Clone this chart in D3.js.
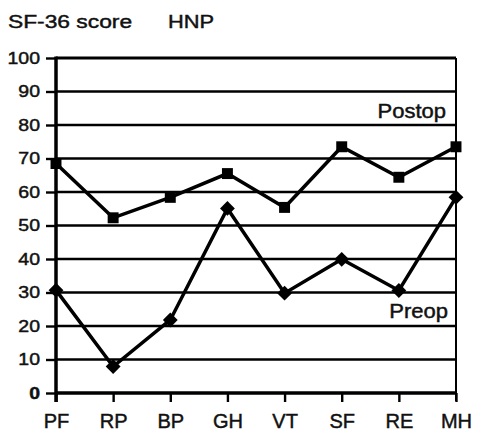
<!DOCTYPE html>
<html>
<head>
<meta charset="utf-8">
<script src="https://cdn.jsdelivr.net/npm/d3@7"></script>
<style>
  body { margin: 0; background: #fff; }
  text { font-family: "Liberation Sans", Arial, sans-serif; fill: #111; stroke: #111; stroke-width: 0.45px; }
</style>
</head>
<body>
<div class="chart"></div>
<script>
const categories = ["PF", "RP", "BP", "GH", "VT", "SF", "RE", "MH"];
const postop = [68.5, 52.3, 58.4, 65.5, 55.4, 73.5, 64.4, 73.5];
const preop = [30.7, 7.9, 21.8, 55.1, 29.8, 39.9, 30.6, 58.4];
const yTicks = [0, 10, 20, 30, 40, 50, 60, 70, 80, 90, 100];

const width = 477, height = 433;
const plotLeft = 56, plotRight = 456, plotTop = 58, plotBottom = 393;

const svg = d3.select(".chart").append("svg")
    .attr("width", width)
    .attr("height", height);

const x = d3.scalePoint().domain(categories).range([plotLeft, plotRight]);
const y = d3.scaleLinear().domain([0, 100]).range([plotBottom, plotTop]);

// stretch text a bit wider, like the original scan
function stretchText(sel, sx) {
  sel.each(function () {
    const t = d3.select(this);
    const tx = +t.attr("x") || 0, ty = +t.attr("y") || 0;
    t.attr("x", 0).attr("y", 0)
     .attr("transform", `translate(${tx},${ty}) scale(${sx},1)`);
  });
}

// title
svg.append("text").attr("x", 8).attr("y", 28)
    .style("font-size", "19px").text("SF-36 score")
    .call(stretchText, 1.2);
svg.append("text").attr("x", 168).attr("y", 28)
    .style("font-size", "19px").text("HNP")
    .call(stretchText, 1.15);

// gridlines
svg.append("g").selectAll("line")
  .data(yTicks.filter(d => d > 0))
  .join("line")
    .attr("x1", plotLeft).attr("x2", plotRight)
    .attr("y1", d => y(d)).attr("y2", d => y(d))
    .attr("stroke", "#000")
    .attr("stroke-width", d => d === 100 ? 3 : 2.4);

// right border
svg.append("line")
    .attr("x1", plotRight).attr("x2", plotRight)
    .attr("y1", plotTop).attr("y2", plotBottom + 8)
    .attr("stroke", "#000").attr("stroke-width", 2);

// y axis
const yAxis = svg.append("g")
    .attr("transform", `translate(${plotLeft},0)`)
    .call(d3.axisLeft(y).tickValues(yTicks).tickSize(10).tickPadding(6));
yAxis.select(".domain").attr("stroke-width", 3.5)
    .attr("d", `M0,${plotTop - 1.5}V${plotBottom + 9}`);
yAxis.selectAll(".tick line").attr("stroke-width", 2.4);
yAxis.selectAll(".tick text")
    .style("font-size", "16.5px")
    .style("font-family", "'Liberation Sans', Arial, sans-serif")
    .style("font-weight", d => d === 0 ? "bold" : "normal")
    .attr("fill", "#111")
    .call(stretchText, 1.18);

// x axis
const xAxis = svg.append("g")
    .attr("transform", `translate(0,${plotBottom})`)
    .call(d3.axisBottom(x).tickSize(9).tickPadding(12));
xAxis.select(".domain").attr("stroke-width", 3.5)
    .attr("d", `M${plotLeft},0H${plotRight}`);
xAxis.selectAll(".tick line").attr("stroke-width", 2.4);
xAxis.selectAll(".tick text")
    .style("font-size", "20px")
    .style("font-family", "'Liberation Sans', Arial, sans-serif")
    .attr("fill", "#111");

const line = d3.line()
    .x((d, i) => x(categories[i]))
    .y(d => y(d));

// series lines
svg.append("path").datum(postop)
    .attr("d", line).attr("fill", "none")
    .attr("stroke", "#000").attr("stroke-width", 3.5)
    .attr("stroke-linejoin", "miter");
svg.append("path").datum(preop)
    .attr("d", line).attr("fill", "none")
    .attr("stroke", "#000").attr("stroke-width", 3.5)
    .attr("stroke-linejoin", "miter");

// markers
svg.append("g").selectAll("path")
  .data(postop)
  .join("path")
    .attr("transform", (d, i) => `translate(${x(categories[i])},${y(d)})`)
    .attr("d", d3.symbol(d3.symbolSquare, 120))
    .attr("fill", "#000");
svg.append("g").selectAll("path")
  .data(preop)
  .join("path")
    .attr("transform", (d, i) => `translate(${x(categories[i])},${y(d)}) rotate(45)`)
    .attr("d", d3.symbol(d3.symbolSquare, 110))
    .attr("fill", "#000");

// series labels
svg.append("text").attr("x", 446).attr("y", 118)
    .attr("text-anchor", "end")
    .style("font-size", "20px").text("Postop")
    .call(stretchText, 1.1);
svg.append("text").attr("x", 448).attr("y", 318)
    .attr("text-anchor", "end")
    .style("font-size", "20px").text("Preop")
    .call(stretchText, 1.1);
</script>
</body>
</html>
